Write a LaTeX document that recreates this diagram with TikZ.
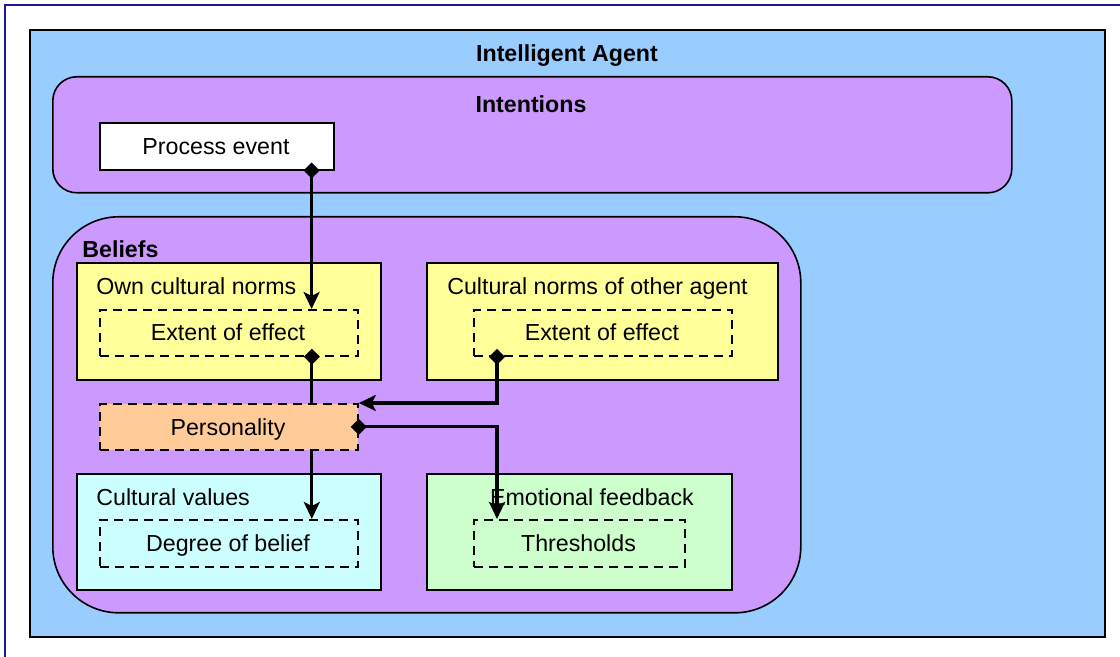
\documentclass[tikz,border=0pt]{standalone}
\usepackage{fontspec}
\setmainfont{Liberation Sans}
\usetikzlibrary{arrows.meta,calc}
\definecolor{frameblue}{HTML}{1A1A99}
\definecolor{agentblue}{HTML}{99CCFF}
\definecolor{lilac}{HTML}{CC99FF}
\definecolor{paleyellow}{HTML}{FFFF99}
\definecolor{peach}{HTML}{FFCC99}
\definecolor{palecyan}{HTML}{CCFFFF}
\definecolor{palegreen}{HTML}{CCFFCC}
\tikzset{
  box/.style={draw=black, line width=0.8pt, inner sep=0pt, anchor=north west},
  dbox/.style={draw=black, line width=0.9pt, dash pattern=on 4.5pt off 3pt, inner sep=0pt, anchor=north west},
  txt/.style={inner sep=0pt, anchor=base, font=\fontsize{11.6pt}{14pt}\selectfont},
  ltxt/.style={txt, anchor=base west},
  btxt/.style={txt, font=\fontsize{11.6pt}{14pt}\selectfont\bfseries},
  link/.style={line width=1.6pt, shorten <=-4pt,
    {Diamond[length=8pt,width=8pt]}-{Stealth[length=8.5pt,width=8pt,inset=2pt]}}
}
\begin{document}
\begin{tikzpicture}[x=0.5pt,y=-0.5pt]
\useasboundingbox (0,0) rectangle (1120,657);
% page frame
\draw[frameblue, line width=1pt] (5,657) -- (5,5) -- (1120,5);

% agent and its two compartments
\node[box, fill=agentblue, line width=1pt, minimum width=537.5pt, minimum height=303.5pt] (agent) at (29,29) {};
\node[btxt] (agentlbl) at (567,62) {Intelligent Agent};

\node[box, fill=lilac, rounded corners=12pt, minimum width=479.5pt, minimum height=58pt] (intent) at (52,76) {};
\node[btxt] (intentlbl) at (531,113) {Intentions};
\node[box, fill=white, minimum width=117pt, minimum height=23.5pt] (pe) at (99,122) {};
\node[txt] (pelbl) at (216,155) {Process event};

\node[box, fill=lilac, rounded corners=33pt, minimum width=374pt, minimum height=198pt] (beliefs) at (52,216) {};
\node[btxt, anchor=base west] (beliefslbl) at (82,258) {Beliefs};

% belief boxes
\node[box, fill=paleyellow, minimum width=152pt, minimum height=58.5pt] (own) at (76,262) {};
\node[ltxt] (ownlbl) at (96,295) {Own cultural norms};
\node[dbox, minimum width=129pt, minimum height=23pt] (ext1) at (99,309) {};
\node[txt] (ext1lbl) at (228,341) {Extent of effect};

\node[box, fill=paleyellow, minimum width=175.5pt, minimum height=58.5pt] (other) at (426,262) {};
\node[txt] (otherlbl) at (597.5,295) {Cultural norms of other agent};
\node[dbox, minimum width=129pt, minimum height=23pt] (ext2) at (473,309) {};
\node[txt] (ext2lbl) at (602,341) {Extent of effect};

\node[box, fill=palecyan, minimum width=152pt, minimum height=58pt] (cv) at (76,473) {};
\node[ltxt] (cvlbl) at (96,506) {Cultural values};
\node[dbox, minimum width=129pt, minimum height=23.5pt] (deg) at (99,519) {};
\node[txt] (deglbl) at (228,552) {Degree of belief};

\node[box, fill=palegreen, minimum width=152.5pt, minimum height=58pt] (emo) at (426,473) {};
\node[txt] (emolbl) at (592,506) {Emotional feedback};
\node[dbox, minimum width=105.5pt, minimum height=23.5pt] (thr) at (473,519) {};
\node[txt] (thrlbl) at (578.5,552) {Thresholds};

% own norms feed the degree of belief (passes behind personality)
\coordinate (o1) at ([xshift=-23.5pt]ext1.south east);
\draw[link] (o1) -- (o1 |- deg.north);

\node[dbox, fill=peach, minimum width=129pt, minimum height=23pt] (pers) at (99,403) {};
\node[txt] (perslbl) at (228,435.5) {Personality};

% remaining connectors
\coordinate (p1) at ([xshift=-11.5pt]pe.south east);
\draw[link] (p1) -- (p1 |- ext1.north);
\coordinate (o2) at ([xshift=12pt]ext2.south west);
\draw[link] (o2) |- (pers.north east);
\coordinate (t1) at ([xshift=12pt]thr.north west);
\draw[link] (pers.east) -| (t1);
\end{tikzpicture}
\end{document}
